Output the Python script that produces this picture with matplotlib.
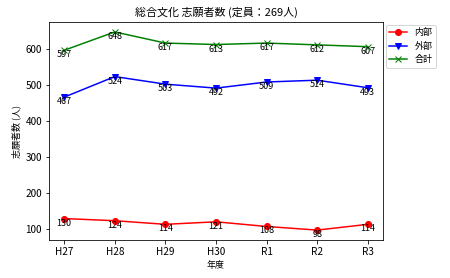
import matplotlib
matplotlib.use("Agg")
import matplotlib.pyplot as plt

plt.rcParams['font.family'] = ['Noto Sans CJK JP', 'DejaVu Sans']

years = ["H27", "H28", "H29", "H30", "R1", "R2", "R3"]
naibu = [130, 124, 114, 121, 108, 98, 114]
gaibu = [467, 524, 503, 492, 509, 514, 493]
goukei = [597, 648, 617, 613, 617, 612, 607]

fig = plt.figure(figsize=(6.25, 278/72), dpi=72)
ax = fig.add_axes([49/450, 1-240/278, (383-49)/450, (240-22)/278])

x = list(range(len(years)))
series = [("内部", naibu, "o", "red"), ("外部", gaibu, "v", "blue"), ("合計", goukei, "x", "green")]
for name, vals, m, c in series:
    ax.plot(x, vals, marker=m, color=c, label=name)
    for xi, v in zip(x, vals):
        ax.text(xi, v, str(v), ha="center", va="top", fontsize=9)

ax.set_xticks(x)
ax.set_xticklabels(years)
ax.set_title("総合文化 志願者数 (定員：269人)", fontsize=11)
ax.set_xlabel("年度", fontsize=9)
ax.set_ylabel("志願者数 (人)", fontsize=9)
ax.tick_params(labelsize=10)
ax.legend(loc="upper left", bbox_to_anchor=(1.0, 1.0), fontsize=9, borderaxespad=0.3)

fig.savefig("out.png", dpi=72)
